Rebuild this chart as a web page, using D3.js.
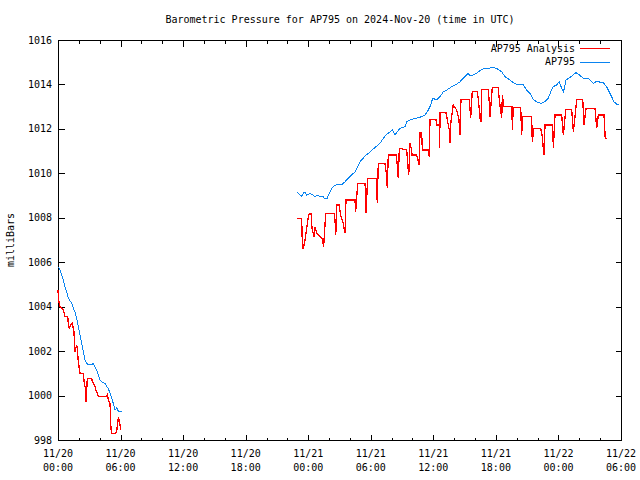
<!DOCTYPE html>
<html><head><meta charset="utf-8">
<script src="https://cdn.jsdelivr.net/npm/d3@7"></script>
<style>body{margin:0;background:#fff}svg{display:block}text{font-family:"DejaVu Sans Mono",monospace;font-size:10px;fill:#000}</style>
</head><body><svg id="c" width="640" height="480"></svg>
<script>
// hours since 2024-11-20 00:00 UTC ; null = gap
const obsHours = [0.00,0.19,0.35,0.51,0.67,0.83,0.99,1.31,1.47,1.63,1.79,1.95,2.11,2.27,2.43,2.59,2.75,2.91,3.23,3.39,3.55,3.71,3.87,4.03,4.19,4.51,4.67,4.82,4.99,5.15,5.30,5.47,5.63,5.78,6.11,
 null,
 22.95,23.37,23.55,23.69,23.85,24.17,24.49,24.65,24.94,25.13,25.45,25.54,25.80,26.02,26.25,26.50,26.88,27.21,27.53,27.84,28.17,28.49,28.75,28.97,29.45,29.92,30.40,30.88,31.36,31.84,32.10,32.32,32.52,32.80,33.28,33.45,33.76,34.05,34.40,34.88,35.20,35.52,35.75,35.94,36.32,36.64,36.96,37.28,37.76,38.24,38.56,38.87,39.35,39.51,39.83,40.16,40.48,40.96,41.44,41.75,42.23,42.56,42.87,43.35,43.67,44.15,44.63,44.95,45.27,45.59,45.91,46.30,46.71,47.03,47.26,47.51,47.83,48.08,48.31,48.49,48.72,49.11,49.42,49.68,50.00,50.38,50.86,51.34,51.60,51.82,52.30,52.62,52.87,53.10,53.32,53.58,53.83];
const obsPressure = [1005.80,1005.65,1005.43,1005.20,1004.90,1004.67,1004.38,1004.15,1003.93,1003.77,1003.48,1003.10,1002.72,1002.35,1001.97,1001.60,1001.45,1001.38,1001.38,1001.45,1001.30,1001.15,1000.93,1000.70,1000.62,1000.55,1000.40,1000.33,1000.10,999.88,999.65,999.35,999.44,999.30,999.30,
 null,
 1009.13,1008.98,1009.12,1009.17,1009.02,1009.10,1009.02,1008.95,1009.02,1008.95,1008.95,1008.87,1008.87,1009.10,1009.33,1009.43,1009.52,1009.48,1009.62,1009.78,1009.93,1010.07,1010.30,1010.52,1010.78,1010.96,1011.16,1011.35,1011.68,1011.87,1011.95,1011.72,1011.86,1012.03,1012.10,1012.32,1012.40,1012.44,1012.48,1012.55,1012.62,1012.85,1013.08,1013.38,1013.30,1013.45,1013.67,1013.75,1013.90,1014.02,1014.12,1014.28,1014.50,1014.38,1014.43,1014.50,1014.63,1014.73,1014.74,1014.77,1014.68,1014.57,1014.35,1014.20,1014.08,1013.98,1013.98,1013.75,1013.60,1013.33,1013.22,1013.15,1013.22,1013.38,1013.67,1013.90,1013.98,1014.12,1013.83,1013.67,1014.20,1014.32,1014.43,1014.53,1014.43,1014.28,1014.28,1014.05,1014.12,1014.12,1014.08,1013.90,1013.67,1013.45,1013.22,1013.12,1013.12];

const anaHours = [0.00,0.05,0.19,0.35,0.51,0.67,0.93,0.99,1.08,1.22,1.37,1.53,1.63,1.79,1.85,1.95,2.11,2.43,2.52,2.59,2.66,2.69,2.73,2.81,3.23,3.29,3.39,3.55,3.64,3.87,4.67,4.73,4.89,4.99,5.08,5.15,5.53,5.63,5.78,5.88,6.01,
 null,
 22.95,23.37,23.45,23.55,23.69,23.79,24.03,24.14,24.27,24.36,24.55,24.65,24.81,25.13,25.32,25.48,25.68,26.50,26.57,26.64,26.73,26.98,27.10,27.36,27.53,27.62,28.49,28.55,28.75,29.45,29.49,29.54,29.70,30.57,30.62,30.72,31.36,31.52,31.58,31.68,32.42,32.52,32.64,32.74,33.45,33.54,33.64,33.76,33.92,33.95,34.40,34.53,34.65,34.72,34.88,34.94,35.01,35.52,35.61,35.68,36.25,36.35,36.57,36.61,36.64,37.21,37.31,37.53,37.60,37.65,37.91,38.24,38.46,38.56,38.65,39.45,39.58,39.73,40.21,40.31,40.48,40.57,40.64,41.27,41.37,41.44,41.66,42.23,42.30,42.39,42.56,42.62,42.78,43.55,43.57,43.67,44.38,44.47,44.57,45.43,45.49,45.65,46.30,46.43,46.61,46.71,47.45,47.51,47.67,48.31,48.47,48.70,49.27,49.43,49.76,50.33,50.39,50.45,50.65,51.51,51.67,51.82,52.37,52.49,52.68];
const anaPressure = [1004.75,1004.30,1004.00,1003.93,1003.85,1003.55,1003.55,1003.25,1003.03,1003.18,1003.25,1002.87,1001.97,1002.27,1002.13,1001.52,1001.00,1001.00,1000.55,1000.40,1000.33,999.72,1000.02,1000.78,1000.78,1000.62,1000.55,1000.40,1000.25,999.95,999.95,1000.02,999.72,999.65,998.53,998.30,998.30,998.38,998.98,998.90,998.45,
 null,
 1007.98,1007.98,1006.58,1006.68,1007.00,1007.31,1008.12,1008.20,1008.20,1007.54,1007.15,1007.60,1007.30,1007.15,1007.09,1006.70,1008.20,1008.20,1007.90,1007.22,1008.57,1008.57,1008.12,1007.75,1007.30,1008.80,1008.80,1008.27,1009.55,1009.55,1009.12,1008.23,1009.78,1009.78,1008.65,1010.45,1010.45,1009.92,1009.33,1010.83,1010.83,1010.47,1009.78,1011.13,1011.05,1010.45,1009.92,1011.35,1011.05,1010.83,1010.83,1010.60,1010.37,1011.83,1011.83,1011.13,1011.05,1011.05,1010.75,1012.43,1012.43,1012.17,1012.17,1011.13,1012.73,1012.73,1012.48,1011.95,1011.35,1012.17,1013.08,1012.85,1012.40,1011.72,1013.33,1013.33,1012.48,1013.67,1013.67,1013.38,1012.48,1012.33,1013.78,1013.78,1013.18,1012.55,1013.87,1013.87,1013.45,1013.08,1012.48,1013.52,1013.00,1013.00,1011.95,1012.97,1012.97,1011.72,1012.55,1012.55,1011.43,1012.02,1012.02,1011.72,1010.83,1012.17,1012.17,1011.13,1012.62,1012.62,1011.72,1012.88,1012.88,1011.87,1013.33,1013.33,1012.76,1012.17,1012.93,1012.93,1012.02,1012.62,1012.62,1011.57,1011.57];

const yTicks = [998,1000,1002,1004,1006,1008,1010,1012,1014,1016];
const seriesNames = ["AP795 Analysis","AP795"];
const titleText = "Barometric Pressure for AP795 on 2024-Nov-20 (time in UTC)";
const yLabel = "milliBars";

const t0 = Date.UTC(2024,10,20,0,0);
const toDate = h => new Date(t0 + h*3600000);
const L=58,R=621,T=40,B=440;
const svg = d3.select("#c");
const x = d3.scaleUtc().domain([toDate(0), toDate(54)]).range([L,R]);
const y = d3.scaleLinear().domain([998,1016]).range([B,T]);

const majorTicks = d3.range(0,55,6).map(toDate);
const minorTicks = d3.range(0,55,2).map(toDate);

// frame
svg.append("rect").attr("x",L+0.5).attr("y",T+0.5).attr("width",R-L).attr("height",B-T)
  .attr("fill","none").attr("stroke","#000").attr("stroke-width",1).attr("shape-rendering","crispEdges");

const g = svg.append("g").attr("shape-rendering","crispEdges");
const xi = d=>Math.round(x(d))+0.5;
minorTicks.forEach(d=>{
  const major = majorTicks.some(m=>+m===+d);
  const len = major?6:3;
  g.append("line").attr("x1",xi(d)).attr("x2",xi(d)).attr("y1",B+0.5).attr("y2",B+0.5-len).attr("stroke","#000");
  g.append("line").attr("x1",xi(d)).attr("x2",xi(d)).attr("y1",T+0.5).attr("y2",T+0.5+len).attr("stroke","#000");
});
const fmtD = d3.utcFormat("%m/%d"), fmtT = d3.utcFormat("%H:%M");
majorTicks.forEach(d=>{
  const t = svg.append("text").attr("text-anchor","middle").attr("x",x(d));
  t.append("tspan").attr("x",x(d)).attr("y",457).text(fmtD(d));
  t.append("tspan").attr("x",x(d)).attr("y",471).text(fmtT(d));
});
yTicks.forEach(v=>{
  const yy = Math.round(y(v))+0.5;
  g.append("line").attr("x1",L+0.5).attr("x2",L+6.5).attr("y1",yy).attr("y2",yy).attr("stroke","#000");
  g.append("line").attr("x1",R+0.5).attr("x2",R-5.5).attr("y1",yy).attr("y2",yy).attr("stroke","#000");
  svg.append("text").attr("x",52).attr("y",y(v)+3.5).attr("text-anchor","end").text(v);
});

svg.append("text").attr("x",340).attr("y",23).attr("text-anchor","middle").text(titleText);
svg.append("text").attr("transform","translate(14,240) rotate(-90)").attr("text-anchor","middle").text(yLabel);

const mk = (hs,vs)=>hs.map((h,i)=>({h, v:vs[i]}));
const line = d3.line().defined(d=>d.h!==null && d.v!==null).x(d=>x(toDate(d.h))).y(d=>y(d.v));
svg.append("path").datum(mk(obsHours,obsPressure)).attr("d",line).attr("fill","none").attr("stroke","#0a84f0").attr("stroke-width",1).attr("shape-rendering","crispEdges");
svg.append("path").datum(mk(anaHours,anaPressure)).attr("d",line).attr("fill","none").attr("stroke","#ff0000").attr("stroke-width",1.3).attr("shape-rendering","crispEdges");

const colors = ["#ff0000","#0a84f0"];
seriesNames.forEach((n,i)=>{
  const ly = 48 + i*13.5;
  svg.append("text").attr("x",575).attr("y",ly+3.5).attr("text-anchor","end").text(n);
  svg.append("line").attr("x1",580).attr("x2",610).attr("y1",ly+0.5).attr("y2",ly+0.5).attr("stroke",colors[i]).attr("stroke-width",1).attr("shape-rendering","crispEdges");
});
</script></body></html>
